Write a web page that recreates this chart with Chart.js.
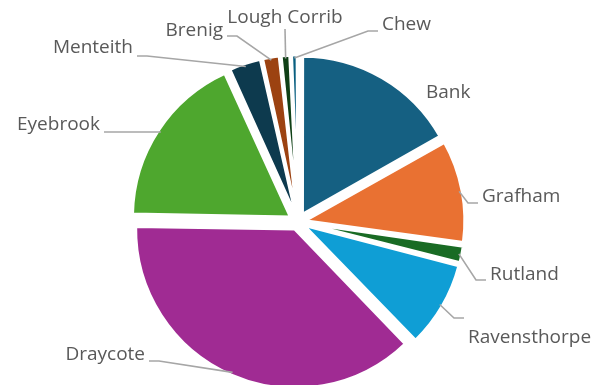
<!DOCTYPE html>
<html>
<head>
<meta charset="utf-8">
<script src="https://cdn.jsdelivr.net/npm/chart.js@4/dist/chart.umd.min.js"></script>
<style>
  html, body { margin: 0; padding: 0; background: #fff; overflow: hidden; }
  #wrap { width: 595px; height: 385px; overflow: hidden; }
</style>
</head>
<body>
<div id="wrap"><canvas id="pie" width="595" height="444"></canvas></div>
<script>
const reservoirs = ["Bank", "Grafham", "Rutland", "Ravensthorpe", "Draycote", "Eyebrook", "Menteith", "Brenig", "Lough Corrib", "Chew"];
const share = [16.8, 10.4, 1.8, 8.75, 37.5, 17.9, 3.3, 1.8, 1.0, 0.7];

const sliceColors = ["#156082", "#E97132", "#196B24", "#0F9ED5", "#A02B93", "#4EA72E", "#0D3A4E", "#9C4211", "#0F4016", "#095F80"];

// label text spots; ly = where the leader meets the label (relative to text middle)
const labelSpots = [
  { x: 426, y: 93, align: "left" },
  { x: 482, y: 197, align: "left", ly: 6 },
  { x: 490, y: 275, align: "left", ly: 5 },
  { x: 468, y: 338, align: "left", ly: -20 },
  { x: 145, y: 355, align: "right", ly: 6 },
  { x: 100, y: 125, align: "right", ly: 7 },
  { x: 133, y: 48, align: "right", ly: 8 },
  { x: 223, y: 31, align: "right", ly: 5 },
  { x: 285, y: 18, align: "center", ly: 11 },
  { x: 382, y: 25, align: "left", ly: 6 }
];

const explode = 10; // px each slice is pulled out

// chart.js widens thin exploded slices, so pull thin ones out less to keep the rim even
function sliceOffset(c) {
  const total = share.reduce((a, b) => a + b, 0);
  const ang = c.parsed / total * Math.PI * 2;
  const fix = 1 - Math.sin(Math.min(Math.PI, ang));
  return 4 * explode / (1 + fix);
}

const outsideLabels = {
  id: "outsideLabels",
  afterDatasetsDraw(chart) {
    const ctx = chart.ctx;
    const arcs = chart.getDatasetMeta(0).data;
    ctx.save();
    ctx.font = "19px 'Open Sans'";
    ctx.textBaseline = "middle";
    arcs.forEach((arc, i) => {
      const spot = labelSpots[i];
      const mid = (arc.startAngle + arc.endAngle) / 2;
      const reach = explode + arc.outerRadius - 3;
      const ax = arc.x + Math.cos(mid) * reach;
      const ay = arc.y + Math.sin(mid) * reach;

      if (spot.ly !== undefined) {
        const yy = spot.y + spot.ly;
        ctx.beginPath();
        if (spot.align === "left") {
          ctx.moveTo(spot.x - 4, yy);
          ctx.lineTo(spot.x - 14, yy);
        } else if (spot.align === "right") {
          ctx.moveTo(spot.x + 4, yy);
          ctx.lineTo(spot.x + 14, yy);
        } else {
          ctx.moveTo(spot.x, yy);
        }
        ctx.lineTo(ax, ay);
        ctx.strokeStyle = "#A6A6A6";
        ctx.lineWidth = 1.6;
        ctx.stroke();
      }

      ctx.fillStyle = "#595959";
      ctx.textAlign = spot.align;
      ctx.fillText(reservoirs[i], spot.x, spot.y);
    });
    ctx.restore();
  }
};

new Chart(document.getElementById("pie"), {
  type: "pie",
  data: {
    labels: reservoirs,
    datasets: [{
      data: share,
      backgroundColor: sliceColors,
      borderColor: "#ffffff",
      borderWidth: 3,
      offset: sliceOffset
    }]
  },
  options: {
    responsive: false,
    animation: false,
    events: [],
    radius: 157,
    layout: { padding: { left: 1 } },
    plugins: {
      legend: { display: false },
      tooltip: { enabled: false }
    }
  },
  plugins: [outsideLabels]
});
</script>
</body>
</html>
